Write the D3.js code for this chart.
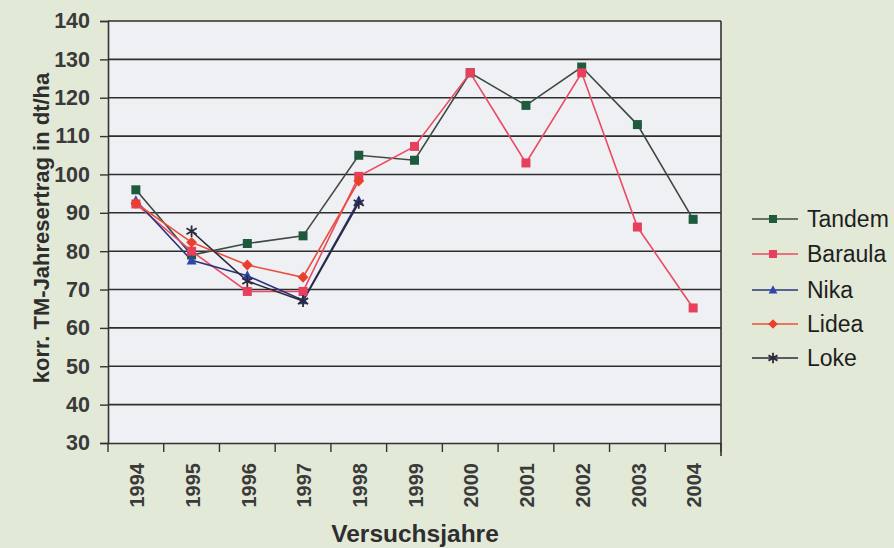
<!DOCTYPE html>
<html><head><meta charset="utf-8">
<script src="https://cdn.jsdelivr.net/npm/d3@7"></script>
<style>
html,body{margin:0;padding:0;background:#e3e9d7;}
svg{display:block;font-family:"Liberation Sans",Arial,sans-serif;}
</style></head>
<body>
<svg id="c" width="894" height="548"></svg>
<script>
const years = ["1994","1995","1996","1997","1998","1999","2000","2001","2002","2003","2004"];
const yTicks = [30,40,50,60,70,80,90,100,110,120,130,140];
const seriesNames = ["Tandem","Baraula","Nika","Lidea","Loke"];
const tandem  = [96, 79, 82, 84, 105, 103.7, 126.5, 118, 128, 113, 88.3];
const baraula = [92.3, 80, 69.5, 69.5, 99.5, 107.3, 126.5, 103, 126.5, 86.3, 65.2];
const nika    = [93.2, 77.6, 73.6, 67.2, 93.2, null, null, null, null, null, null];
const lidea   = [92.5, 82.3, 76.4, 73.2, 98.3, null, null, null, null, null, null];
const loke    = [null, 85.2, 72.2, 67, 92.6, null, null, null, null, null, null];

const series = [
  {name: seriesNames[0], values: tandem,  line:"#3d4a42", fill:"#1f5a3c", shape:"square"},
  {name: seriesNames[1], values: baraula, line:"#ea4a62", fill:"#e8405c", shape:"square"},
  {name: seriesNames[2], values: nika,    line:"#2a347e", fill:"#2d45b0", shape:"triangle"},
  {name: seriesNames[3], values: lidea,   line:"#e8503a", fill:"#e8402a", shape:"diamond"},
  {name: seriesNames[4], values: loke,    line:"#2c2a3a", fill:"#2c2a3a", shape:"star"}
];

const svg = d3.select("#c");
const L = 108, R = 721, T = 21, B = 443;
const x = d3.scaleBand().domain(years).range([L, R]);
const y = d3.scaleLinear().domain([30, 140]).range([B, T]);

svg.append("rect").attr("x", L).attr("y", T).attr("width", R - L).attr("height", B - T).attr("fill", "#eff0f4");

// gridlines
svg.append("g").selectAll("line").data(yTicks.slice(1)).join("line")
  .attr("x1", L).attr("x2", R).attr("y1", d => y(d)).attr("y2", d => y(d))
  .attr("stroke", "#2e2e2e").attr("stroke-width", 1.6);

// right border
svg.append("line").attr("x1", R).attr("x2", R).attr("y1", T).attr("y2", B + 13)
  .attr("stroke", "#3a3236").attr("stroke-width", 1.6);

// y axis
const yAxis = svg.append("g").attr("transform", `translate(${L},0)`)
  .call(d3.axisLeft(y).tickValues(yTicks).tickSize(8).tickPadding(10));
yAxis.select(".domain").attr("stroke", "#333").attr("stroke-width", 1.6);
yAxis.selectAll(".tick line").attr("stroke", "#333").attr("stroke-width", 1.4);
yAxis.selectAll(".tick text").attr("font-size", 21.5).attr("font-weight", "bold").attr("fill", "#3a3a3a")
  .attr("font-family", "Liberation Sans, Arial, sans-serif");

// x axis
const xAxis = svg.append("g").attr("transform", `translate(0,${B})`)
  .call(d3.axisBottom(x).tickSize(0).tickPadding(0));
xAxis.select(".domain").attr("stroke", "#333").attr("stroke-width", 1.6);
xAxis.selectAll(".tick text")
  .attr("transform", "rotate(-90)")
  .attr("text-anchor", "end")
  .attr("dy", "0.36em")
  .attr("x", -20).attr("y", 1)
  .attr("font-size", 20).attr("font-weight", "bold").attr("fill", "#3a3a3a")
  .attr("font-family", "Liberation Sans, Arial, sans-serif");
// boundary ticks
const bounds = years.map(d => x(d)).concat([R]);
svg.append("g").selectAll("line").data(bounds).join("line")
  .attr("x1", d => d).attr("x2", d => d).attr("y1", B).attr("y2", B + 9)
  .attr("stroke", "#333").attr("stroke-width", 1.4);

const cx = d => x(d) + x.bandwidth() / 2;

function marker(g, shape, fill, stroke, s) {
  if (shape === "square") {
    g.append("rect").attr("x", -s).attr("y", -s).attr("width", 2*s).attr("height", 2*s).attr("fill", fill);
  } else if (shape === "triangle") {
    g.append("path").attr("d", `M0,${-s*1.2}L${s*1.1},${s*0.9}L${-s*1.1},${s*0.9}Z`).attr("fill", fill);
  } else if (shape === "diamond") {
    g.append("path").attr("d", `M0,${-s*1.2}L${s*1.2},0L0,${s*1.2}L${-s*1.2},0Z`).attr("fill", fill);
  } else if (shape === "star") {
    const r = s * 1.3;
    g.append("path").attr("d", `M0,${-r}L0,${r}M${-r*0.87},${-r*0.5}L${r*0.87},${r*0.5}M${-r*0.87},${r*0.5}L${r*0.87},${-r*0.5}`)
      .attr("stroke", fill).attr("stroke-width", 1.8).attr("fill", "none");
  }
}

const line = d3.line().defined(d => d.v != null).x(d => cx(d.yr)).y(d => y(d.v));
series.forEach(s => {
  const pts = years.map((yr, i) => ({yr, v: s.values[i]}));
  svg.append("path").datum(pts).attr("d", line).attr("fill", "none")
    .attr("stroke", s.line).attr("stroke-width", 1.6);
});
series.forEach(s => {
  const pts = years.map((yr, i) => ({yr, v: s.values[i]})).filter(d => d.v != null);
  pts.forEach(p => {
    const g = svg.append("g").attr("transform", `translate(${cx(p.yr)},${y(p.v)})`);
    marker(g, s.shape, s.fill, s.line, 4.5);
  });
});

// legend
const legY = [219, 254, 290, 324, 358];
series.forEach((s, i) => {
  const g = svg.append("g").attr("transform", `translate(0,${legY[i]})`);
  g.append("line").attr("x1", 752).attr("x2", 798).attr("y1", 0).attr("y2", 0)
    .attr("stroke", s.line).attr("stroke-width", 1.6);
  const m = g.append("g").attr("transform", "translate(773,0)");
  marker(m, s.shape, s.fill, s.line, 4);
  g.append("text").attr("x", 807).attr("y", 0).attr("dy", "0.35em")
    .attr("font-size", 23).attr("fill", "#1e1e1e").text(s.name);
});

// titles
svg.append("text").attr("x", 415).attr("y", 542).attr("text-anchor", "middle")
  .attr("font-size", 24.5).attr("font-weight", "bold").attr("fill", "#2e2e2e").text("Versuchsjahre");
svg.append("text").attr("transform", "translate(49,228) rotate(-90)").attr("text-anchor", "middle")
  .attr("font-size", 22).attr("font-weight", "bold").attr("fill", "#2e2e2e").text("korr. TM-Jahresertrag in dt/ha");
</script>
</body></html>
